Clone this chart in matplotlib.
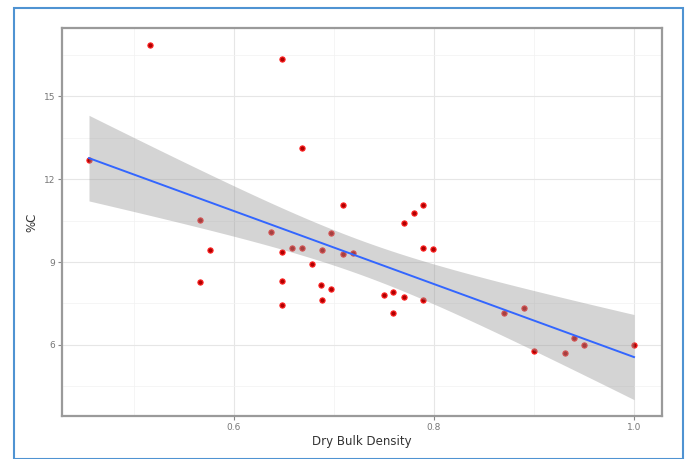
import numpy as np
import matplotlib.pyplot as plt
from matplotlib.patches import Rectangle

# data
density = [0.455, 0.516, 0.648, 0.668, 0.709, 0.566, 0.637, 0.697, 0.770, 0.780,
           0.789, 0.576, 0.658, 0.668, 0.648, 0.688, 0.709, 0.719, 0.789, 0.799,
           0.678, 0.566, 0.648, 0.687, 0.697, 0.750, 0.759, 0.770, 0.789, 0.648,
           0.688, 0.759, 0.870, 0.890, 0.900, 0.931, 0.940, 0.950, 1.000]
carbon = [12.68, 16.85, 16.34, 13.12, 11.05, 10.54, 10.07, 10.04, 10.43, 10.76,
          11.05, 9.42, 9.49, 9.49, 9.35, 9.42, 9.28, 9.31, 9.49, 9.46,
          8.91, 8.26, 8.33, 8.15, 8.04, 7.79, 7.90, 7.72, 7.61, 7.43,
          7.61, 7.17, 7.17, 7.35, 5.76, 5.69, 6.23, 6.01, 5.98]
x_ticks = [0.6, 0.8, 1.0]
y_ticks = [6, 9, 12, 15]


def fit_with_ci(x, y, t_val=2.026):
    x = np.asarray(x)
    y = np.asarray(y)
    n = len(x)
    slope, icept = np.polyfit(x, y, 1)
    resid = y - (slope * x + icept)
    s = np.sqrt(np.sum(resid ** 2) / (n - 2))
    xs = np.linspace(x.min(), x.max(), 80)
    ys = slope * xs + icept
    se = s * np.sqrt(1.0 / n + (xs - x.mean()) ** 2 / np.sum((x - x.mean()) ** 2))
    return xs, ys, ys - t_val * se, ys + t_val * se


fig = plt.figure(figsize=(6.88, 4.59), dpi=100)
ax = fig.add_axes([62 / 688, 1 - 416 / 459, 600 / 688, 388 / 459])

# outer blue frame
fig.patches.append(Rectangle((14 / 688, 0), 669 / 688, 1 - 8 / 459,
                             transform=fig.transFigure, fill=False,
                             edgecolor='#4f93d2', linewidth=1.5))

ax.scatter(density, carbon, s=14, color='#b00000', edgecolor='#ff2020',
           linewidth=0.8, zorder=2)

xs, ys, lo, hi = fit_with_ci(density, carbon)
ax.fill_between(xs, lo, hi, color='#999999', alpha=0.42, linewidth=0, zorder=3)
ax.plot(xs, ys, color='#3366ff', linewidth=1.4, zorder=4)

ax.set_xlim(0.428, 1.028)
ax.set_ylim(3.42, 17.48)
ax.set_xticks(x_ticks)
ax.set_xticklabels(['0.6', '0.8', '1.0'])
ax.set_yticks(y_ticks)
ax.set_xticks([0.5, 0.7, 0.9], minor=True)
ax.set_yticks([4.5, 7.5, 10.5, 13.5, 16.5], minor=True)

ax.grid(True, which='major', color='#e6e6e6', linewidth=0.8, zorder=0)
ax.grid(True, which='minor', color='#f2f2f2', linewidth=0.5, zorder=0)
ax.set_axisbelow(True)
ax.tick_params(which='major', length=3, width=0.8, color='#888888',
               labelsize=6.5, labelcolor='#777777', pad=2)
ax.tick_params(which='minor', length=0)

for sp in ax.spines.values():
    sp.set_color('#9a9a9a')
    sp.set_linewidth(1.6)

ax.set_xlabel('Dry Bulk Density', fontsize=8.5, color='#333333', labelpad=2)
ax.set_ylabel('%C', fontsize=8.5, color='#333333', labelpad=4)

fig.savefig('out.png', dpi=100)
